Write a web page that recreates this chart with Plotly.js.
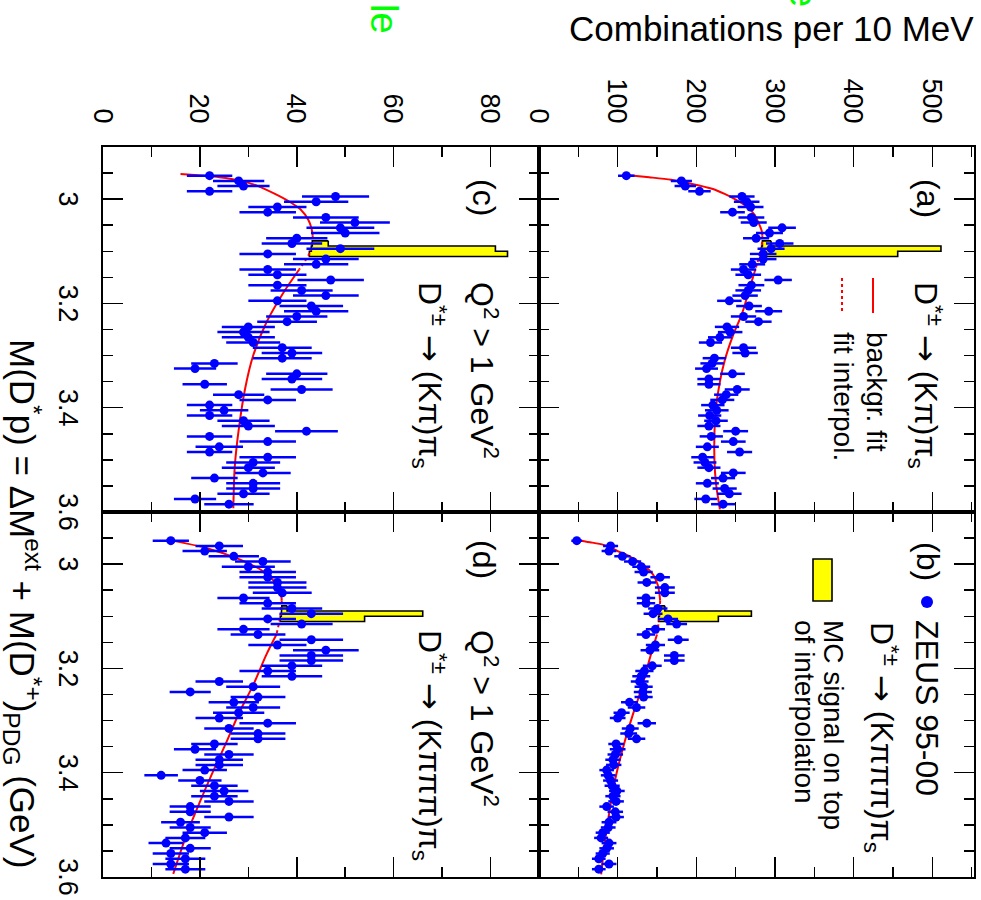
<!DOCTYPE html>
<html><head><meta charset="utf-8">
<script src="https://cdn.plot.ly/plotly-3.0.1.min.js"></script>
<style>
html,body{margin:0;padding:0;background:#fff;overflow:hidden;width:981px;height:900px;}
#wrap{position:absolute;left:0;top:0;width:900px;height:981px;transform-origin:0 0;transform:translate(981px,0) rotate(90deg);}
#plot{width:900px;height:981px;}
</style></head><body>
<div id="wrap"><div id="plot"></div></div>
<script>
// ---- data (10 MeV bins of M(D*p) in GeV) ----
const massBins = [2.955,2.965,2.975,2.985,2.995,3.005,3.015,3.025,3.035,3.045,
3.055,3.065,3.075,3.085,3.095,3.105,3.115,3.125,3.135,3.145,
3.155,3.165,3.175,3.185,3.195,3.205,3.215,3.225,3.235,3.245,
3.255,3.265,3.275,3.285,3.295,3.305,3.315,3.325,3.335,3.345,
3.355,3.365,3.375,3.385,3.395,3.405,3.415,3.425,3.435,3.445,
3.455,3.465,3.475,3.485,3.495,3.505,3.515,3.525,3.535,3.545,
3.555,3.565,3.575,3.585];

// (a) D*->(K pi) pi_s
const countsA = [111,181,186,204,258,264,269,246,270,273,309,293,276,306,295,285,285,271,260,266,
304,270,266,262,242,267,292,260,279,239,243,230,218,260,262,223,220,213,246,216,
216,252,238,233,221,226,217,225,216,250,219,247,214,255,208,211,216,247,234,214,
236,242,212,234];
// (b) D*->(K pi pi pi) pi_s
const countsB = [48,91,89,106,119,130,133,154,137,160,160,136,136,151,145,164,175,148,136,177,
148,141,172,172,144,134,130,128,133,132,133,115,124,105,100,137,116,114,124,98,
100,97,94,95,86,88,91,93,99,94,98,86,97,98,89,88,81,79,89,86,
81,76,89,76];
// (c) Q2>1, D*->(K pi) pi_s
const countsC = [22,28,29,22,48,44,36,34,46,52,49,50,40,39,49,34,46,44,34,36,
47,36,41,46,36,43,44,40,38,30,29,30,31,37,39,37,23,19,40,39,
21,41,28,34,22,25,22,29,30,42,22,34,24,22,34,31,30,33,23,31,
31,29,19,26];
// (d) Q2>1, D*->(K pi pi pi) pi_s
const countsD = [14,24,21,27,33,30,34,34,36,36,37,29,34,39,43,34,41,29,32,43,
36,46,43,43,39,34,39,24,31,18,32,27,31,28,24,34,26,32,32,23,
19,26,24,24,21,12,20,23,25,23,26,18,18,26,16,18,21,17,13,18,
14,17,14,17];

// background fit curves
const fitMassA = [2.953,2.958,2.963,2.97,2.98,2.99,3.0,3.015,3.03,3.045,3.06,3.07,3.09,3.11,3.135,3.17,3.22,3.26,3.31,3.35,3.4,3.45,3.5,3.545,3.595];
const fitA     = [108,140,168,192,220,236,249,265,274,279,283,284,283,280,275,268,258,247,236,230,225,223,223,225,230];
const fitMassB = [2.953,2.958,2.963,2.968,2.975,2.985,3.0,3.02,3.04,3.055,3.07,3.1,3.135,3.18,3.24,3.29,3.34,3.405,3.47,3.535,3.595];
const fitB     = [45,65,82,91,100,115,131,145,151,153,154,153,150,141,130,119,109,98,90,83.5,79];
const fitMassC = [2.952,2.958,2.965,2.975,2.99,3.005,3.02,3.04,3.055,3.07,3.1,3.135,3.18,3.237,3.3,3.365,3.436,3.513,3.593];
const fitC     = [16,24,28.5,32,35.5,38.5,40.8,42.4,43,43.3,42.8,40.5,37.2,33.7,31,29.3,28.1,27.2,26.9];
const fitMassD = [2.953,2.969,2.991,3.014,3.039,3.062,3.07,3.1,3.135,3.174,3.232,3.283,3.341,3.398,3.456,3.52,3.594];
const fitD     = [13.1,21.3,28.2,33.1,35.8,36.8,36.9,36.6,35.8,33.7,31,28.2,25.5,22.7,20,17.2,14.5];
const interpRange = [3.07, 3.135];

// MC signal on top of interpolation
const sigEdges = [3.08, 3.09, 3.10, 3.11];
const sigTopA = [295, 511, 456], sigBaseA = [284, 283, 282];
const sigTopB = [160, 270, 228], sigBaseB = [154, 153, 152];
const sigTopC = [46.5, 81, 83.5], sigBaseC = [43.2, 43, 42.6];
const sigTopD = [38, 66, 54],     sigBaseD = [36.9, 36.8, 36.6];

const massRange = [2.9, 3.6];
const countRangeTop = [0, 553];
const countRangeBottom = [0, 90];

// ---- build ----
const FONT = 'Liberation Sans, Arial, Helvetica, sans-serif';
const BLUE = '#0000ff', RED = '#ff0000';

function stepPoly(edges, top, base){
  const xs=[], ys=[];
  for(let i=0;i<top.length;i++){ xs.push(edges[i], edges[i+1]); ys.push(top[i], top[i]); }
  for(let i=top.length-1;i>=0;i--){ xs.push(edges[i+1], edges[i]); ys.push(base[i], base[i]); }
  xs.push(xs[0]); ys.push(ys[0]);
  return {xs, ys};
}

const panels = [
  {xa:'x',  ya:'y',  counts:countsA, fm:fitMassA, fy:fitA, st:sigTopA, sb:sigBaseA},
  {xa:'x2', ya:'y2', counts:countsB, fm:fitMassB, fy:fitB, st:sigTopB, sb:sigBaseB},
  {xa:'x3', ya:'y3', counts:countsC, fm:fitMassC, fy:fitC, st:sigTopC, sb:sigBaseC},
  {xa:'x4', ya:'y4', counts:countsD, fm:fitMassD, fy:fitD, st:sigTopD, sb:sigBaseD},
];

const traces = [];
panels.forEach(p => {
  const poly = stepPoly(sigEdges, p.st, p.sb);
  traces.push({type:'scatter', mode:'lines', x:poly.xs, y:poly.ys, xaxis:p.xa, yaxis:p.ya,
    fill:'toself', fillcolor:'#ffff00', line:{color:'#000', width:1.6}, hoverinfo:'skip'});
  const lx=[],ly=[],mx=[],my=[],rx=[],ry=[];
  p.fm.forEach((m,i)=>{
    if(m<=interpRange[0]){lx.push(m);ly.push(p.fy[i]);}
    if(m>=interpRange[0] && m<=interpRange[1]){mx.push(m);my.push(p.fy[i]);}
    if(m>=interpRange[1]){rx.push(m);ry.push(p.fy[i]);}
  });
  traces.push({type:'scatter', mode:'lines', x:lx, y:ly, xaxis:p.xa, yaxis:p.ya,
    line:{color:RED, width:2, shape:'spline', smoothing:0.8}});
  traces.push({type:'scatter', mode:'lines', x:mx, y:my, xaxis:p.xa, yaxis:p.ya,
    line:{color:RED, width:2, dash:'dot', shape:'spline', smoothing:0.8}});
  traces.push({type:'scatter', mode:'lines', x:rx, y:ry, xaxis:p.xa, yaxis:p.ya,
    line:{color:RED, width:2, shape:'spline', smoothing:0.8}});
  traces.push({type:'scatter', mode:'markers', x:massBins, y:p.counts, xaxis:p.xa, yaxis:p.ya,
    marker:{color:BLUE, size:9},
    error_y:{type:'sqrt', color:BLUE, thickness:2.5, width:0}});
});

const W=900, H=981;
const U = u => u/W, V = v => 1 - v/H;
const colL=[U(147),U(512)], colR=[U(512),U(877)];
const rowT=[V(442),V(7)], rowB=[V(878),V(442)];

const axBase = {showline:true, linecolor:'#000', linewidth:2, mirror:'allticks',
  ticks:'inside', ticklen:20, tickwidth:1.5, tickcolor:'#000',
  showgrid:false, zeroline:false, tickfont:{family:FONT, size:27, color:'#000'}};
function xax(domain, anchor, labels){
  return Object.assign({}, axBase, {domain, anchor, range:massRange, tick0:3, dtick:0.2,
    showticklabels:labels, ticklabelstandoff:10,
    minor:{ticks:'inside', ticklen:10, tickwidth:1.5, tickcolor:'#000', tick0:3, dtick:0.05, showgrid:false}});
}
function yax(domain, anchor, labels, range, dt){
  return Object.assign({}, axBase, {domain, anchor, range, tick0:0, dtick:dt,
    showticklabels:labels, ticklabelstandoff:16,
    minor:{ticks:'inside', ticklen:10, tickwidth:1.5, tickcolor:'#000', tick0:0, dtick:dt/2, showgrid:false}});
}

function ann(text, u, v, size, extra){
  return Object.assign({text, x:U(u), y:V(v), xref:'paper', yref:'paper', showarrow:false,
    xanchor:'left', yanchor:'middle', font:{family:FONT, size, color:'#000'}}, extra||{});
}
const ARROW = '<span style="font-family:DejaVu Sans">→</span>';
const DKpi = 'D<sup>*±</sup> ' + ARROW + ' (Kπ)π<sub>s</sub>';
const DK3pi = 'D<sup>*±</sup> ' + ARROW + ' (Kπππ)π<sub>s</sub>';
const Q2 = 'Q<sup>2</sup> > 1 GeV<sup>2</sup>';

const annotations = [
  ann('(a)', 177, 53, 32), ann(DKpi, 280, 55, 32),
  ann('backgr. fit', 330, 104, 28), ann('fit interpol.', 330, 138, 28),
  ann('(b)', 540, 53, 32), ann('ZEUS 95-00', 618, 54, 32), ann(DK3pi, 620, 99, 32),
  ann('MC signal on top', 618, 147, 28), ann('of interpolation', 618, 176, 28),
  ann('(c)', 177, 497, 32), ann(Q2, 280, 497, 32), ann(DKpi, 280, 551, 32),
  ann('(d)', 538, 497, 32), ann(Q2, 628, 497, 32), ann(DK3pi, 628, 551, 32),
  ann('Combinations per 10 MeV', 29, 210, 35, {xanchor:'center', textangle:-90}),
  ann('M(D<sup>*</sup>p) = ΔM<sup>ext</sup> + M(D<sup>*+</sup>)<sub>PDG</sub> (GeV)', 337, 958, 35),
  ann('le', 36, 597, 38, {xanchor:'right', font:{family:FONT, size:38, color:'#00ff00'}}),
  ann('e', 9, 178, 38, {xanchor:'right', font:{family:FONT, size:38, color:'#00ff00'}}),
];

const shapes = [
  {type:'line', xref:'paper', yref:'paper', x0:U(278), x1:U(313), y0:V(108), y1:V(108), line:{color:RED, width:2}},
  {type:'line', xref:'paper', yref:'paper', x0:U(278), x1:U(313), y0:V(139), y1:V(139), line:{color:RED, width:2, dash:'dot'}},
  {type:'circle', xref:'paper', yref:'paper', x0:U(596), x1:U(608), y0:V(60), y1:V(48), fillcolor:BLUE, line:{color:BLUE, width:0}},
  {type:'rect', xref:'paper', yref:'paper', x0:U(559), x1:U(601), y0:V(168), y1:V(149), fillcolor:'#ffff00', line:{color:'#000', width:1.6}},
];

const layout = {
  width:W, height:H, margin:{l:0,r:0,t:0,b:0}, showlegend:false,
  paper_bgcolor:'#fff', plot_bgcolor:'#fff', font:{family:FONT, color:'#000'},
  xaxis: xax(colL,'y',false),  yaxis: yax(rowT,'x',true,countRangeTop,100),
  xaxis2:xax(colR,'y2',false), yaxis2:yax(rowT,'x2',false,countRangeTop,100),
  xaxis3:xax(colL,'y3',true),  yaxis3:yax(rowB,'x3',true,countRangeBottom,20),
  xaxis4:xax(colR,'y4',true),  yaxis4:yax(rowB,'x4',false,countRangeBottom,20),
  annotations, shapes
};
Plotly.newPlot('plot', traces, layout, {staticPlot:true, displayModeBar:false});
</script></body></html>
